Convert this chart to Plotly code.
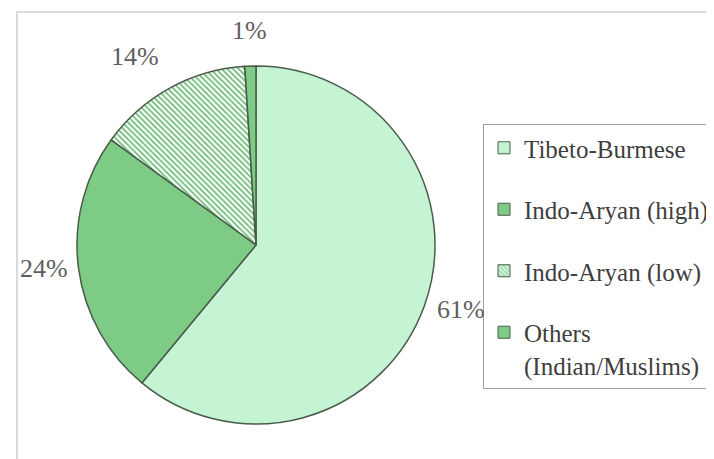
import math
import plotly.graph_objects as go

labels = ["Tibeto-Burmese", "Indo-Aryan (high)", "Indo-Aryan (low)", "Others<br>(Indian/Muslims)"]
values = [61, 24, 14, 1]
colors = ["#C4F4D4", "#7ECB86", "#D3F2D8", "#7ECB86"]
patterns = ["", "", "\\", ""]

W, H = 714, 459
line_col = "#4A5C4A"
serif = "Liberation Serif, Times New Roman, serif"

# pie geometry (pixels)
cx, cy, R = 248, 237, 179

fig = go.Figure()
fig.add_trace(go.Pie(
    labels=labels, values=values, sort=False, direction="clockwise", rotation=0,
    marker=dict(colors=colors, line=dict(color=line_col, width=1.5),
                pattern=dict(shape=patterns, fgcolor="#6CBB76", size=4, solidity=0.45)),
    textposition="none",
    showlegend=False, hoverinfo="skip",
    domain=dict(x=[(cx - R) / W, (cx + R) / W], y=[1 - (cy + R) / H, 1 - (cy - R) / H]),
))

# percentage labels placed outside each slice, at the slice's mid-angle
total = sum(values)
cum = 0
for v in values:
    mid = (cum + v / 2) / total * 2 * math.pi
    cum += v
    dx, dy = math.sin(mid), -math.cos(mid)
    d = R + 7 + 12 * abs(dy)
    px, py = cx + d * dx, cy + d * dy
    xa = "left" if dx > 0.3 else ("right" if dx < -0.3 else "center")
    ya = "bottom" if dy < -0.5 else ("top" if dy > 0.5 else "middle")
    fig.add_annotation(x=px / W, y=1 - py / H, xref="paper", yref="paper",
                       text=f"{round(v / total * 100)}%", showarrow=False,
                       xanchor=xa, yanchor=ya,
                       font=dict(family=serif, size=26, color="#5E5E5E"))

for lab, col, pat in zip(labels, colors, patterns):
    fig.add_trace(go.Bar(
        x=[None], y=[None], name=lab, legendgroup=lab,
        marker=dict(color=col, line=dict(color=line_col, width=1),
                    pattern=dict(shape=pat, fgcolor="#6CBB76", size=4, solidity=0.45)),
    ))

fig.update_layout(
    width=W, height=H, margin=dict(l=0, r=0, t=0, b=0),
    paper_bgcolor="white", plot_bgcolor="white",
    xaxis=dict(visible=False), yaxis=dict(visible=False),
    legend=dict(x=475 / W, y=1 - 116 / H, xanchor="left", yanchor="top",
                bordercolor="#A0A0A0", borderwidth=1, bgcolor="white",
                font=dict(family=serif, size=25, color="#3E3E3E"),
                tracegroupgap=26, traceorder="grouped", itemwidth=30, valign="top"),
    shapes=[dict(type="rect", xref="paper", yref="paper", x0=9 / W, x1=710 / W, y0=1 - 456 / H, y1=1 - 4 / H,
                 line=dict(color="#CFCFCF", width=1.5))],
)

fig.write_html("out.html")
